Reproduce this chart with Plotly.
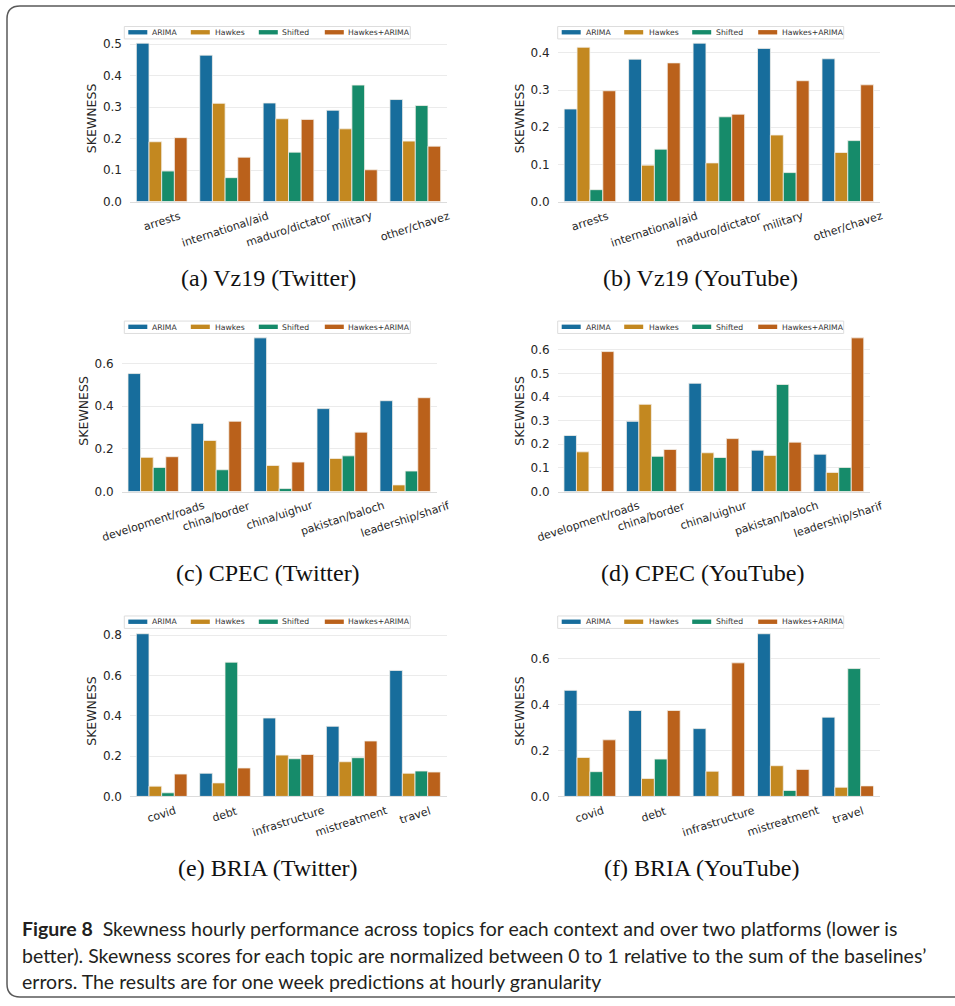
import plotly.graph_objects as go

W, H = 955, 1006

# ---------------- data ----------------
series_names = ["ARIMA", "Hawkes", "Shifted", "Hawkes+ARIMA"]
series_colors = ["#176d9c", "#c38820", "#168b6a", "#ba611b"]

vz19_topics = ["arrests", "international/aid", "maduro/dictator", "military", "other/chavez"]
cpec_topics = ["development/roads", "china/border", "china/uighur", "pakistan/baloch", "leadership/sharif"]
bria_topics = ["covid", "debt", "infrastructure", "mistreatment", "travel"]

# (a) Vz19 (Twitter)
vz19_tw_arima = [0.503, 0.465, 0.313, 0.290, 0.324]
vz19_tw_hawkes = [0.190, 0.312, 0.263, 0.231, 0.192]
vz19_tw_shifted = [0.097, 0.076, 0.157, 0.370, 0.305]
vz19_tw_hawkes_arima = [0.203, 0.141, 0.261, 0.101, 0.176]

# (b) Vz19 (YouTube)
vz19_yt_arima = [0.249, 0.383, 0.426, 0.412, 0.384]
vz19_yt_hawkes = [0.415, 0.098, 0.104, 0.179, 0.132]
vz19_yt_shifted = [0.032, 0.141, 0.228, 0.078, 0.164]
vz19_yt_hawkes_arima = [0.298, 0.373, 0.235, 0.325, 0.314]

# (c) CPEC (Twitter)
cpec_tw_arima = [0.552, 0.319, 0.719, 0.388, 0.425]
cpec_tw_hawkes = [0.160, 0.239, 0.122, 0.155, 0.031]
cpec_tw_shifted = [0.113, 0.102, 0.014, 0.167, 0.096]
cpec_tw_hawkes_arima = [0.163, 0.329, 0.138, 0.278, 0.439]

# (d) CPEC (YouTube)
cpec_yt_arima = [0.237, 0.297, 0.458, 0.175, 0.158]
cpec_yt_hawkes = [0.168, 0.369, 0.164, 0.153, 0.081]
cpec_yt_shifted = [None, 0.149, 0.144, 0.453, 0.102]
cpec_yt_hawkes_arima = [0.592, 0.178, 0.224, 0.209, 0.650]

# (e) BRIA (Twitter)
bria_tw_arima = [0.807, 0.115, 0.389, 0.348, 0.625]
bria_tw_hawkes = [0.051, 0.067, 0.205, 0.172, 0.115]
bria_tw_shifted = [0.018, 0.666, 0.187, 0.192, 0.126]
bria_tw_hawkes_arima = [0.111, 0.141, 0.208, 0.275, 0.121]

# (f) BRIA (YouTube)
bria_yt_arima = [0.463, 0.375, 0.296, 0.710, 0.346]
bria_yt_hawkes = [0.170, 0.078, 0.110, 0.134, 0.040]
bria_yt_shifted = [0.108, 0.163, None, 0.026, 0.558]
bria_yt_hawkes_arima = [0.247, 0.375, 0.583, 0.118, 0.046]

subtitles = ["(a) Vz19 (Twitter)", "(b) Vz19 (YouTube)",
             "(c) CPEC (Twitter)", "(d) CPEC (YouTube)",
             "(e) BRIA (Twitter)", "(f) BRIA (YouTube)"]
y_tick_steps = [0.1, 0.1, 0.2, 0.1, 0.2, 0.2]
y_label = "SKEWNESS"

caption_lines = [
    "<b>Figure 8</b>  Skewness hourly performance across topics for each context and over two platforms (lower is",
    "better). Skewness scores for each topic are normalized between 0 to 1 relative to the sum of the baselines’",
    "errors. The results are for one week predictions at hourly granularity",
]

panels = [
    (vz19_topics, [vz19_tw_arima, vz19_tw_hawkes, vz19_tw_shifted, vz19_tw_hawkes_arima]),
    (vz19_topics, [vz19_yt_arima, vz19_yt_hawkes, vz19_yt_shifted, vz19_yt_hawkes_arima]),
    (cpec_topics, [cpec_tw_arima, cpec_tw_hawkes, cpec_tw_shifted, cpec_tw_hawkes_arima]),
    (cpec_topics, [cpec_yt_arima, cpec_yt_hawkes, cpec_yt_shifted, cpec_yt_hawkes_arima]),
    (bria_topics, [bria_tw_arima, bria_tw_hawkes, bria_tw_shifted, bria_tw_hawkes_arima]),
    (bria_topics, [bria_yt_arima, bria_yt_hawkes, bria_yt_shifted, bria_yt_hawkes_arima]),
]

# ---------------- layout constants (pixels) ----------------
# plot boxes: (left, right, top, bottom)
boxes = [
    (130, 447, 35.5, 203), (557.7, 880, 35.5, 203),
    (121.7, 436.7, 332.5, 495), (557.7, 870, 332.5, 495),
    (130, 446.7, 630, 802), (557.7, 880, 630, 802),
]
# legend box top-left corners
legend_pos = [(124.3, 26.7), (557.7, 26.7), (124.3, 323.3), (557.7, 323.3),
              (124.3, 620.3), (557.7, 620.3)]
LEG_W, LEG_H = 286, 12.5
LEG_SWATCH_DX = [4, 66.5, 134.5, 200.5]
LEG_TEXT_DX = [26, 89, 156, 222]
LEG_SWATCH_W, LEG_SWATCH_Y0, LEG_SWATCH_Y1 = 19, 3.6, 8.0
LEG_TEXT_DY = 6.0

subtitle_pos = [(268, 280), (700, 280), (268, 577), (702, 577), (268, 874), (701, 874)]
caption_x = 20
caption_y = [935, 962, 988]

TXT = "#262626"
GRID = "#ebebeb"
SANS = "DejaVu Sans"


def px_x(p):
    return p / W


def px_y(p):
    return 1 - p / H


fig = go.Figure()
annotations = []
shapes = []

for i, (topics, vals) in enumerate(panels):
    n = i + 1
    xa = "x" if n == 1 else f"x{n}"
    ya = "y" if n == 1 else f"y{n}"
    for name, color, v in zip(series_names, series_colors, vals):
        fig.add_trace(go.Bar(
            x=topics, y=v, name=name, xaxis=xa, yaxis=ya,
            marker=dict(color=color, line=dict(color="#f4f0ea", width=0.8)),
            showlegend=False, hoverinfo="skip",
        ))

    l, r, t, b = boxes[i]
    ymax = max(v for s in vals for v in s if v is not None) * 1.05
    xkey = "xaxis" if n == 1 else f"xaxis{n}"
    ykey = "yaxis" if n == 1 else f"yaxis{n}"
    fig.layout[xkey] = dict(
        domain=[px_x(l), px_x(r)], anchor=ya, range=[-0.5, len(topics) - 0.5],
        showticklabels=False, showgrid=False, zeroline=False,
        showline=True, linecolor="#dcdcdc", linewidth=1, ticks="",
        type="category", fixedrange=True,
    )
    fig.layout[ykey] = dict(
        domain=[px_y(b), px_y(t)], anchor=xa, range=[0, ymax],
        dtick=y_tick_steps[i], tick0=0, tickformat=".1f",
        showgrid=True, gridcolor=GRID, gridwidth=1, zeroline=False,
        showline=False, ticks="", ticklen=0, ticklabelstandoff=7,
        tickfont=dict(family=SANS, size=12, color=TXT),
        title=dict(text=y_label, font=dict(family=SANS, size=12.5, color=TXT), standoff=3),
        fixedrange=True,
    )

    # legend (box, swatches, labels)
    lx, ly = legend_pos[i]
    shapes.append(dict(
        type="rect", xref="paper", yref="paper", layer="above",
        x0=px_x(lx), x1=px_x(lx + LEG_W), y0=px_y(ly + LEG_H), y1=px_y(ly),
        fillcolor="white", line=dict(color="#dddddd", width=1),
    ))
    for name, color, sdx, tdx in zip(series_names, series_colors, LEG_SWATCH_DX, LEG_TEXT_DX):
        shapes.append(dict(
            type="rect", xref="paper", yref="paper", layer="above",
            x0=px_x(lx + sdx), x1=px_x(lx + sdx + LEG_SWATCH_W),
            y0=px_y(ly + LEG_SWATCH_Y1), y1=px_y(ly + LEG_SWATCH_Y0),
            fillcolor=color, line=dict(width=0),
        ))
        annotations.append(dict(
            x=px_x(lx + tdx), y=px_y(ly + LEG_TEXT_DY), xref="paper", yref="paper",
            text=name, xanchor="left", yanchor="middle", showarrow=False,
            font=dict(family=SANS, size=7.7, color="#333333"),
        ))

    for tp in topics:
        annotations.append(dict(
            x=tp, xref=xa, y=0, yref=f"{ya} domain", text=tp, textangle=-18,
            xanchor="center", yanchor="top", yshift=-5, showarrow=False,
            font=dict(family=SANS, size=11, color=TXT),
        ))
    sx, sy = subtitle_pos[i]
    annotations.append(dict(
        x=px_x(sx), y=px_y(sy), xref="paper", yref="paper", text=subtitles[i],
        xanchor="center", yanchor="middle", showarrow=False,
        font=dict(family="Liberation Serif", size=24, color="#111111"),
    ))

for line, cy in zip(caption_lines, caption_y):
    annotations.append(dict(
        x=px_x(caption_x), y=px_y(cy), xref="paper", yref="paper", text=line,
        xanchor="left", yanchor="middle", showarrow=False, align="left",
        font=dict(family="Lato", size=19.5, color="#231f20"),
    ))

# outer rounded frame
fx0, fy0, fy1, rad = 7, 6, 1004, 13
frame_path = (
    f"M {px_x(970)},{px_y(fy0)} L {px_x(fx0 + rad)},{px_y(fy0)} "
    f"Q {px_x(fx0)},{px_y(fy0)} {px_x(fx0)},{px_y(fy0 + rad)} "
    f"L {px_x(fx0)},{px_y(fy1 - rad)} "
    f"Q {px_x(fx0)},{px_y(fy1)} {px_x(fx0 + rad)},{px_y(fy1)} "
    f"L {px_x(970)},{px_y(fy1)}"
)
shapes.append(dict(type="path", path=frame_path, xref="paper", yref="paper",
                   line=dict(color="#5a5a5a", width=1.5)))

fig.update_layout(
    width=W, height=H, margin=dict(l=0, r=0, t=0, b=0),
    paper_bgcolor="white", plot_bgcolor="white",
    barmode="group", bargap=0.2, bargroupgap=0,
    annotations=annotations, shapes=shapes, showlegend=False,
    font=dict(family=SANS, color=TXT),
)

fig.write_html("out.html", include_plotlyjs=True, full_html=True,
               config={"displayModeBar": False, "staticPlot": True},
               post_script="document.body.style.margin='0';")
